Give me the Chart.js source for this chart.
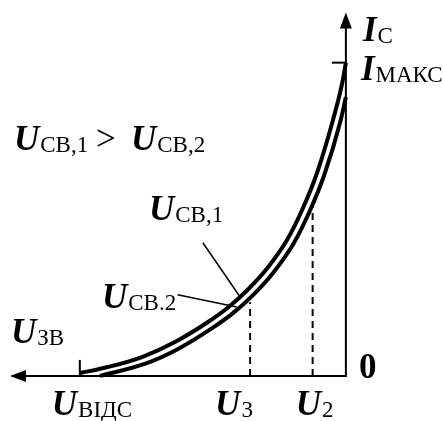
<!DOCTYPE html>
<html>
<head>
<meta charset="utf-8">
<script src="https://cdn.jsdelivr.net/npm/chart.js@4/dist/chart.umd.min.js"></script>
<style>
  html, body { margin: 0; padding: 0; background: #fff; }
  #wrap { width: 443px; height: 421px; }
</style>
</head>
<body>
<div id="wrap"><canvas id="c" width="443" height="421"></canvas></div>
<script>
// ---- data (U in volts-like units, I in mA-like units) ----
const uCurve1 = [0, 0.058, 0.194, 0.434, 0.645, 0.885, 1.186, 1.472, 1.772, 2.073, 2.569, 3.065, 3.576, 3.997];
const iCurve1 = [10.0, 9.318, 8.169, 6.477, 5.360, 4.338, 3.428, 2.758, 2.183, 1.720, 1.082, 0.603, 0.284, 0.092];
const uCurve2 = [0, 0.085, 0.328, 0.543, 0.788, 1.098, 1.392, 1.702, 2.011, 2.516, 3.025, 3.697];
const iCurve2 = [8.903, 8.105, 6.397, 5.264, 4.217, 3.278, 2.589, 1.995, 1.523, 0.868, 0.380, 0.0];
const dropU = [1.44, 0.50];          // U3, U2
const dropI = [2.35, 5.45];          // current at U3, U2 on curve 2
const uCutoff = 4.0;                 // U_ВІДС
const iMax = 10.0;                   // I_МАКС
const xTickLabels = [["U", "ВІДС"], ["U", "3"], ["U", "2"]];
const xTickValues = [uCutoff, dropU[0], dropU[1]];

const MAIN = "bold italic 35px 'Liberation Serif'";
const SUB = "23px 'Liberation Serif'";

function toPts(us, is) { return us.map((u, k) => ({ x: u, y: is[k] })); }

const datasets = [
  { data: toPts(uCurve1, iCurve1), borderColor: '#000', borderWidth: 4, showLine: true, pointRadius: 0, cubicInterpolationMode: 'monotone' },
  { data: toPts(uCurve2, iCurve2), borderColor: '#000', borderWidth: 4, showLine: true, pointRadius: 0, cubicInterpolationMode: 'monotone' }
];
dropU.forEach((u, k) => {
  datasets.push({ data: [{ x: u, y: 0 }, { x: u, y: dropI[k] }], borderColor: '#000', borderWidth: 2, borderDash: [7, 5], showLine: true, pointRadius: 0 });
});

function subText(ctx, x, y, main, sub, mainFont) {
  ctx.font = mainFont || MAIN;
  ctx.fillText(main, x, y);
  const w = ctx.measureText(main).width;
  ctx.font = SUB;
  ctx.fillText(sub, x + w + 1, y + 2);
}

const deco = {
  id: 'deco',
  beforeDatasetsDraw(chart) {
    const ctx = chart.ctx, xs = chart.scales.x, ys = chart.scales.y;
    const x0 = xs.getPixelForValue(0), y0 = ys.getPixelForValue(0);
    const xTip = xs.getPixelForValue(5.05), yTip = ys.getPixelForValue(11.6);
    ctx.save();
    ctx.strokeStyle = '#000'; ctx.fillStyle = '#000'; ctx.lineWidth = 2;
    ctx.beginPath();
    ctx.moveTo(xTip + 10, y0); ctx.lineTo(x0, y0); ctx.lineTo(x0, yTip + 10);
    ctx.stroke();
    // arrowheads
    ctx.beginPath(); ctx.moveTo(xTip, y0); ctx.lineTo(xTip + 16, y0 - 6); ctx.lineTo(xTip + 16, y0 + 6); ctx.closePath(); ctx.fill();
    ctx.beginPath(); ctx.moveTo(x0, yTip); ctx.lineTo(x0 - 6, yTip + 16); ctx.lineTo(x0 + 6, yTip + 16); ctx.closePath(); ctx.fill();
    // ticks
    const xc = xs.getPixelForValue(uCutoff);
    ctx.beginPath(); ctx.moveTo(xc, y0); ctx.lineTo(xc, y0 - 16); ctx.stroke();
    const yi = ys.getPixelForValue(iMax);
    ctx.beginPath(); ctx.moveTo(x0, yi); ctx.lineTo(x0 - 14, yi); ctx.stroke();
    // leader lines
    ctx.lineWidth = 1.5;
    ctx.beginPath();
    ctx.moveTo(xs.getPixelForValue(2.15), ys.getPixelForValue(4.25));
    ctx.lineTo(xs.getPixelForValue(1.59), ys.getPixelForValue(2.52));
    ctx.moveTo(xs.getPixelForValue(2.53), ys.getPixelForValue(2.59));
    ctx.lineTo(xs.getPixelForValue(1.64), ys.getPixelForValue(2.20));
    ctx.stroke();
    ctx.restore();
  },
  afterDraw(chart) {
    const ctx = chart.ctx, xs = chart.scales.x, ys = chart.scales.y;
    const x0 = xs.getPixelForValue(0), y0 = ys.getPixelForValue(0);
    ctx.save();
    ctx.fillStyle = '#000';
    ctx.textBaseline = 'alphabetic';
    // x tick labels below axis
    const offs = [-28, -35, -17];
    xTickValues.forEach((u, k) => {
      const px = xs.getPixelForValue(u);
      subText(ctx, px + offs[k], y0 + 39, xTickLabels[k][0], xTickLabels[k][1]);
    });
    // origin
    ctx.font = "bold 35px 'Liberation Serif'";
    ctx.fillText('0', x0 + 13, y0 + 2);
    // axis titles
    subText(ctx, 11, y0 - 33, 'U', 'ЗВ');
    subText(ctx, x0 + 17, 41, 'I', 'С');
    subText(ctx, x0 + 15, ys.getPixelForValue(iMax) + 17, 'I', 'МАКС');
    // curve labels
    subText(ctx, 149, 220, 'U', 'СВ,1');
    subText(ctx, 102, 308, 'U', 'СВ.2');
    // relation
    subText(ctx, 14, 150, 'U', 'СВ,1');
    ctx.font = "35px 'Liberation Serif'";
    ctx.fillText('>', 96, 150);
    subText(ctx, 131, 150, 'U', 'СВ,2');
    ctx.restore();
  }
};

new Chart(document.getElementById('c'), {
  type: 'scatter',
  data: { datasets },
  options: {
    responsive: false,
    animation: false,
    events: [],
    layout: { padding: 0 },
    plugins: { legend: { display: false }, tooltip: { enabled: false }, title: { display: false } },
    scales: {
      x: { type: 'linear', reverse: true, min: -1.46, max: 5.2, display: false },
      y: { type: 'linear', min: -1.44, max: 12.0, display: false }
    }
  },
  plugins: [deco]
});
</script>
</body>
</html>
